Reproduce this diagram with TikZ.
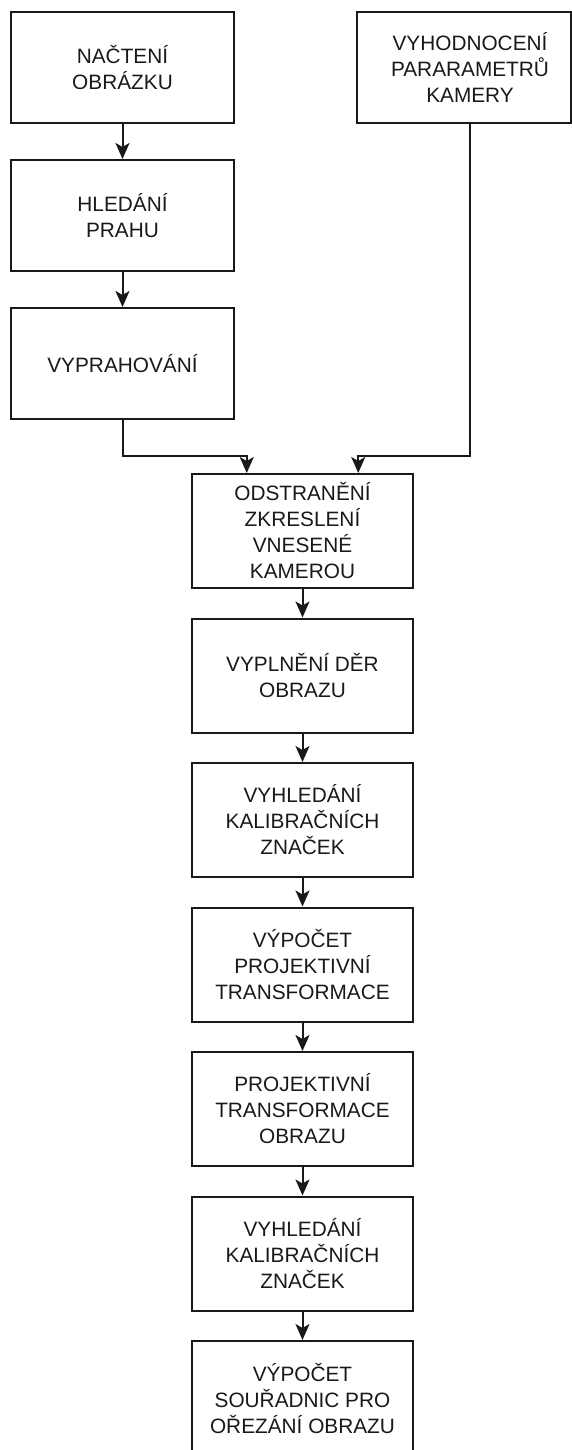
\documentclass[tikz,border=0pt]{standalone}
\usepackage{fontspec}
\setmainfont{Liberation Sans}
\usetikzlibrary{arrows.meta,calc}
\begin{document}
\begin{tikzpicture}[x=1pt,y=-1pt,
  label text/.style={font=\fontsize{20.8}{26}\selectfont, align=center, text=black!90},
  stepbox/.style={label text, draw=black!90, line width=2pt, rectangle,
    minimum width=221pt, minimum height=114pt, inner sep=0pt},
  leftbox/.style={stepbox, minimum width=223pt, minimum height=111pt},
  flow/.style={draw=black!90, line width=2pt,
    -{Stealth[length=16pt,width=14pt,inset=4pt]}}]
\useasboundingbox (0,0) rectangle (572,1450);

% left column: image loading and thresholding
\node[leftbox] (nacteni) at (122.5,67.5) {NAČTENÍ\\OBRÁZKU};
\node[leftbox] (hledani) at (122.5,215.5) {HLEDÁNÍ\\PRAHU};
\node[leftbox] (vyprah)  at (122.5,363.5) {VYPRAHOVÁNÍ};

% camera parameters box (text sits slightly right of the box centre)
\node[leftbox, minimum width=214pt] (kamera) at (464,67.5) {};
\node[label text] (kameratext) at (470,67.5) {VYHODNOCENÍ\\PARARAMETRŮ\\KAMERY};

% main column
\node[stepbox] (odstr)  at (302.5,531)    {ODSTRANĚNÍ\\ZKRESLENÍ\\VNESENÉ\\KAMEROU};
\node[stepbox] (vypl)   at (302.5,675.5)  {VYPLNĚNÍ DĚR\\OBRAZU};
\node[stepbox] (vyhl1)  at (302.5,820)    {VYHLEDÁNÍ\\KALIBRAČNÍCH\\ZNAČEK};
\node[stepbox] (vyp1)   at (302.5,964.5)  {VÝPOČET\\PROJEKTIVNÍ\\TRANSFORMACE};
\node[stepbox] (proj)   at (302.5,1109)   {PROJEKTIVNÍ\\TRANSFORMACE\\OBRAZU};
\node[stepbox] (vyhl2)  at (302.5,1253.5) {VYHLEDÁNÍ\\KALIBRAČNÍCH\\ZNAČEK};
\node[stepbox] (vyp2)   at (302.5,1398)   {VÝPOČET\\SOUŘADNIC PRO\\OŘEZÁNÍ OBRAZU};

% entry points on the top edge of the undistortion step
\coordinate (inL) at ($(odstr.north west)!0.25!(odstr.north east)$);
\coordinate (inR) at ($(odstr.north west)!0.75!(odstr.north east)$);
\coordinate (junction) at (0,456);

% connectors
\draw[flow] (nacteni) -- (hledani);
\draw[flow] (hledani) -- (vyprah);
\draw[flow] (vyprah.south) |- (junction -| inL) -- (inL);
\draw[flow] (kamera.south -| kameratext) |- (junction -| inR) -- (inR);
\draw[flow] (odstr) -- (vypl);
\draw[flow] (vypl) -- (vyhl1);
\draw[flow] (vyhl1) -- (vyp1);
\draw[flow] (vyp1) -- (proj);
\draw[flow] (proj) -- (vyhl2);
\draw[flow] (vyhl2) -- (vyp2);
\end{tikzpicture}
\end{document}
